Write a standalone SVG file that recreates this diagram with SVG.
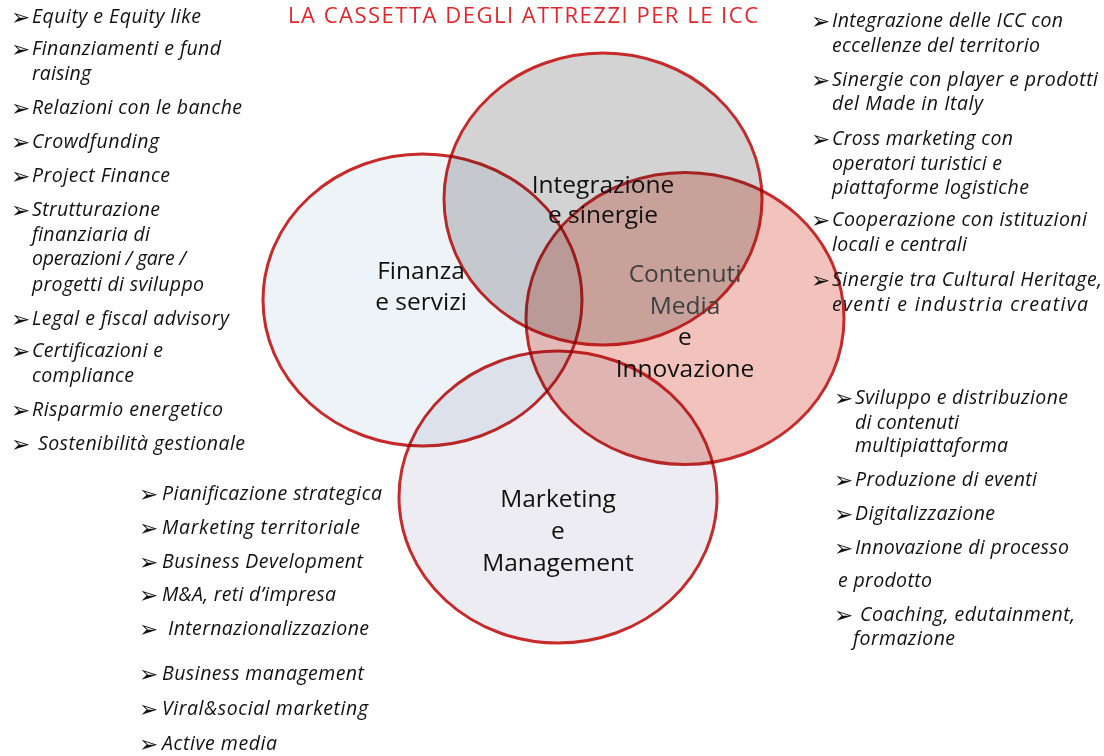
<svg xmlns="http://www.w3.org/2000/svg" width="1104" height="756" viewBox="0 0 1104 756">
<style>
.c{stroke:#c62a2a;stroke-width:3;mix-blend-mode:multiply}
.lbl{font-family:"Open Sans","Noto Sans","Liberation Sans",sans-serif;font-size:24.5px;text-anchor:middle;fill:#111}
.b{font-family:"Open Sans","Noto Sans","Liberation Sans",sans-serif;font-style:italic;font-size:19.5px;fill:#111}
.ar{font-family:"DejaVu Sans",sans-serif;font-size:23px;fill:#111}
.title{font-family:"Open Sans","Noto Sans","Liberation Sans",sans-serif;font-size:22px;fill:#e4262a}
</style>
<rect x="0" y="0" width="1104" height="756" fill="#ffffff"/>
<text class="title" x="288" y="23" textLength="470">LA CASSETTA DEGLI ATTREZZI PER LE ICC</text>

<g id="node-finanza">
<ellipse class="c" cx="422.5" cy="300" rx="159.5" ry="146" fill="#eef3f8"/>
</g>
<g id="node-contenuti">
<ellipse class="c" cx="685" cy="318.5" rx="159" ry="146" fill="#f2c3bc"/>
</g>
<g id="node-marketing">
<ellipse class="c" cx="558" cy="497" rx="159" ry="146" fill="#ececf2"/>
</g>
<g id="node-integrazione">
<ellipse class="c" cx="603" cy="199" rx="159" ry="146" fill="#d3d3d3"/>
</g>
<g id="connectors"/>

<g id="labels">
<text class="lbl" x="421" y="279">Finanza</text>
<text class="lbl" x="421" y="310">e servizi</text>
<text class="lbl" x="603" y="193">Integrazione</text>
<text class="lbl" x="603" y="223">e sinergie</text>
<text class="lbl" x="685" y="282" style="fill:#404040">Contenuti</text>
<text class="lbl" x="685" y="314" style="fill:#404040">Media</text>
<text class="lbl" x="685" y="345">e</text>
<text class="lbl" x="685" y="377">Innovazione</text>
<text class="lbl" x="558" y="507">Marketing</text>
<text class="lbl" x="558" y="539">e</text>
<text class="lbl" x="558" y="571">Management</text>
</g>

<g id="list-finanza">
<text class="ar" x="11" y="24.5">➢</text><text class="b" x="32" y="23" textLength="169">Equity e Equity like</text>
<text class="ar" x="11" y="56.5">➢</text><text class="b" x="32" y="55" textLength="189">Finanziamenti e fund</text>
<text class="b" x="32" y="80" textLength="59">raising</text>
<text class="ar" x="11" y="115.5">➢</text><text class="b" x="32" y="114" textLength="210">Relazioni con le banche</text>
<text class="ar" x="11" y="149.5">➢</text><text class="b" x="32" y="148" textLength="127">Crowdfunding</text>
<text class="ar" x="11" y="183.5">➢</text><text class="b" x="32" y="182" textLength="138">Project Finance</text>
<text class="ar" x="11" y="217.5">➢</text><text class="b" x="32" y="216" textLength="128">Strutturazione</text>
<text class="b" x="32" y="241" textLength="118">finanziaria di</text>
<text class="b" x="32" y="265" textLength="154">operazioni / gare /</text>
<text class="b" x="32" y="291" textLength="172">progetti di sviluppo</text>
<text class="ar" x="11" y="326.5">➢</text><text class="b" x="32" y="325" textLength="197">Legal e fiscal advisory</text>
<text class="ar" x="11" y="358.5">➢</text><text class="b" x="32" y="357" textLength="131">Certificazioni e</text>
<text class="b" x="32" y="382" textLength="102">compliance</text>
<text class="ar" x="11" y="417.5">➢</text><text class="b" x="32" y="416" textLength="191">Risparmio energetico</text>
<text class="ar" x="11" y="451.5">➢</text><text class="b" x="38" y="450" textLength="207">Sostenibilità gestionale</text>
</g>

<g id="list-integrazione">
<text class="ar" x="811" y="28.5">➢</text><text class="b" x="832" y="27" textLength="231">Integrazione delle ICC con</text>
<text class="b" x="832" y="52" textLength="208">eccellenze del territorio</text>
<text class="ar" x="811" y="87.5">➢</text><text class="b" x="832" y="86" textLength="266">Sinergie con player e prodotti</text>
<text class="b" x="832" y="110" textLength="151">del Made in Italy</text>
<text class="ar" x="811" y="146.5">➢</text><text class="b" x="832" y="145" textLength="181">Cross marketing con</text>
<text class="b" x="832" y="170" textLength="170">operatori turistici e</text>
<text class="b" x="832" y="194" textLength="197">piattaforme logistiche</text>
<text class="ar" x="811" y="227.5">➢</text><text class="b" x="832" y="226" textLength="255">Cooperazione con istituzioni</text>
<text class="b" x="832" y="251" textLength="135">locali e centrali</text>
<text class="ar" x="811" y="287.5">➢</text><text class="b" x="832" y="286" textLength="270">Sinergie tra Cultural Heritage,</text>
<text class="b" x="832" y="311" textLength="256">eventi e industria creativa</text>
</g>

<g id="list-contenuti">
<text class="ar" x="834" y="405.5">➢</text><text class="b" x="855" y="404" textLength="213">Sviluppo e distribuzione</text>
<text class="b" x="855" y="429" textLength="104">di contenuti</text>
<text class="b" x="855" y="452" textLength="153">multipiattaforma</text>
<text class="ar" x="834" y="487.5">➢</text><text class="b" x="855" y="486" textLength="182">Produzione di eventi</text>
<text class="ar" x="834" y="521.5">➢</text><text class="b" x="855" y="520" textLength="140">Digitalizzazione</text>
<text class="ar" x="834" y="555.5">➢</text><text class="b" x="855" y="554" textLength="214">Innovazione di processo</text>
<text class="b" x="838" y="587" textLength="94">e prodotto</text>
<text class="ar" x="834" y="622.5">➢</text><text class="b" x="860" y="621" textLength="215">Coaching, edutainment,</text>
<text class="b" x="853" y="645" textLength="102">formazione</text>
</g>

<g id="list-marketing">
<text class="ar" x="139" y="501.5">➢</text><text class="b" x="162" y="500" textLength="220">Pianificazione strategica</text>
<text class="ar" x="139" y="535.5">➢</text><text class="b" x="162" y="534" textLength="198">Marketing territoriale</text>
<text class="ar" x="139" y="569.5">➢</text><text class="b" x="162" y="568" textLength="201">Business Development</text>
<text class="ar" x="139" y="602.5">➢</text><text class="b" x="162" y="601" textLength="174">M&amp;A, reti d’impresa</text>
<text class="ar" x="139" y="636.5">➢</text><text class="b" x="168" y="635" textLength="201">Internazionalizzazione</text>
<text class="ar" x="139" y="681.5">➢</text><text class="b" x="162" y="680" textLength="202">Business management</text>
<text class="ar" x="139" y="716.5">➢</text><text class="b" x="162" y="715" textLength="206">Viral&amp;social marketing</text>
<text class="ar" x="139" y="751.5">➢</text><text class="b" x="162" y="750" textLength="115">Active media</text>
</g>
</svg>
